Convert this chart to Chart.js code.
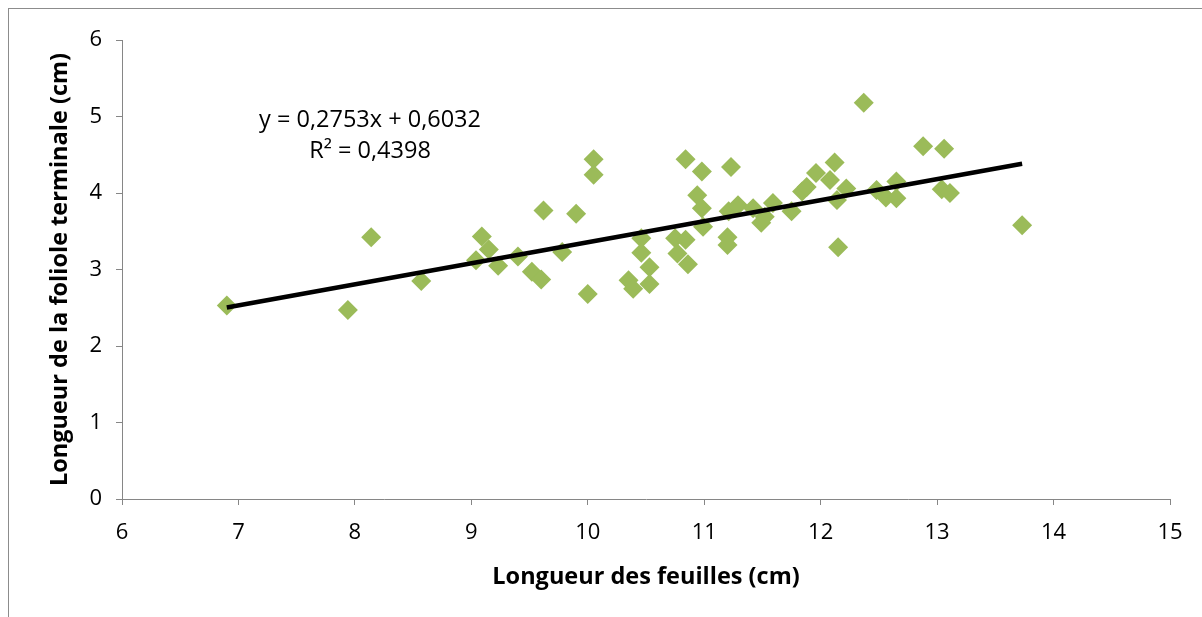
<!DOCTYPE html>
<html>
<head>
<meta charset="utf-8">
<script src="https://cdn.jsdelivr.net/npm/chart.js@4/dist/chart.umd.min.js"></script>
<style>
  html, body { margin: 0; padding: 0; background: #fff; overflow: hidden; }
  #wrap { position: relative; width: 1202px; height: 617px; overflow: hidden; }
  #frame { position: absolute; left: 8px; top: 8px; width: 1300px; height: 700px; border: 1px solid #8c8c8c; }
  #c { position: absolute; left: 0; top: 0; }
</style>
</head>
<body>
<div id="wrap">
  <div id="frame"></div>
  <canvas id="c" width="1202" height="617"></canvas>
</div>
<script>
// Leaf length (cm) and terminal leaflet length (cm) for each sampled leaf
const leafLength = [
  6.90, 7.94, 8.14, 8.57, 9.04, 9.09, 9.15, 9.23, 9.40, 9.52,
  9.60, 9.62, 9.78, 9.90, 10.00, 10.05, 10.05, 10.35, 10.39, 10.46,
  10.46, 10.53, 10.53, 10.75, 10.84, 10.77, 10.86, 10.84, 10.98, 10.94,
  10.98, 10.99, 11.23, 11.21, 11.29, 11.20, 11.20, 11.42, 11.49, 11.52,
  11.59, 11.75, 11.84, 11.88, 11.96, 12.08, 12.12, 12.22, 12.14, 12.15,
  12.37, 12.48, 12.56, 12.65, 12.65, 12.88, 13.06, 13.04, 13.11, 13.73
];
const leafletLength = [
  2.53, 2.47, 3.42, 2.85, 3.12, 3.43, 3.26, 3.05, 3.17, 2.97,
  2.87, 3.77, 3.23, 3.73, 2.68, 4.44, 4.24, 2.86, 2.75, 3.41,
  3.22, 3.03, 2.81, 3.41, 3.39, 3.21, 3.07, 4.44, 4.28, 3.97,
  3.80, 3.56, 4.34, 3.76, 3.84, 3.42, 3.32, 3.80, 3.61, 3.69,
  3.87, 3.76, 4.02, 4.08, 4.26, 4.17, 4.40, 4.06, 3.91, 3.29,
  5.18, 4.04, 3.94, 4.15, 3.93, 4.61, 4.58, 4.05, 4.00, 3.58
];

// Linear regression fitted to the data
const trendSlope = 0.2753;
const trendIntercept = 0.6032;
const equationLines = ['y = 0,2753x + 0,6032', 'R\u00b2 = 0,4398'];

// Axis ranges and titles
const xTicks = [6, 7, 8, 9, 10, 11, 12, 13, 14, 15];
const yTicks = [0, 1, 2, 3, 4, 5, 6];
const xTitle = 'Longueur des feuilles (cm)';
const yTitle = 'Longueur de la foliole terminale (cm)';

const points = leafLength.map((x, i) => ({ x: x, y: leafletLength[i] }));
const xMin = Math.min(...leafLength);
const xMax = Math.max(...leafLength);
const trendPoints = [xMin, xMax].map(x => ({ x: x, y: trendSlope * x + trendIntercept }));

const FONT = "'Open Sans', 'Liberation Sans', sans-serif";
const AXIS_GREY = '#868686';

// Regression equation written above the scatter
const equationLabel = {
  id: 'equationLabel',
  afterDatasetsDraw(chart) {
    const { ctx, scales } = chart;
    const cx = scales.x.getPixelForValue(8.13);
    const rows = [4.95, 4.54];
    ctx.save();
    ctx.font = '23.5px ' + FONT;
    ctx.fillStyle = '#000';
    ctx.textAlign = 'center';
    ctx.textBaseline = 'middle';
    equationLines.forEach((t, i) => ctx.fillText(t, cx, scales.y.getPixelForValue(rows[i])));
    ctx.restore();
  }
};

new Chart(document.getElementById('c'), {
  type: 'scatter',
  data: {
    datasets: [
      {
        type: 'line',
        data: trendPoints,
        borderColor: '#000',
        borderWidth: 4.5,
        pointRadius: 0,
        fill: false,
        order: 0
      },
      {
        data: points,
        pointStyle: 'rectRot',
        pointRadius: 10,
        pointHoverRadius: 10,
        backgroundColor: '#9BBB59',
        borderWidth: 0,
        order: 1
      }
    ]
  },
  options: {
    responsive: false,
    animation: false,
    events: [],
    layout: { padding: { top: 40, right: 32, left: 0, bottom: 0 } },
    plugins: { legend: { display: false }, tooltip: { enabled: false } },
    scales: {
      x: {
        type: 'linear',
        min: xTicks[0],
        max: xTicks[xTicks.length - 1],
        afterBuildTicks: s => { s.ticks = xTicks.map(v => ({ value: v })); },
        afterFit: s => { s.height = 118; },
        grid: { drawOnChartArea: false, drawTicks: true, tickLength: 6, color: AXIS_GREY },
        border: { color: AXIS_GREY, width: 1 },
        ticks: { color: '#000', padding: 15, font: { family: FONT, size: 22 } },
        title: {
          display: true, text: xTitle, color: '#000',
          font: { family: FONT, size: 23.5, weight: 'bold' },
          padding: { top: 0, bottom: 26 }
        }
      },
      y: {
        type: 'linear',
        min: yTicks[0],
        max: yTicks[yTicks.length - 1],
        afterBuildTicks: s => { s.ticks = yTicks.map(v => ({ value: v })); },
        afterFit: s => { s.width = 122; },
        grid: { drawOnChartArea: false, drawTicks: true, tickLength: 6, color: AXIS_GREY },
        border: { color: AXIS_GREY, width: 1 },
        ticks: { color: '#000', padding: 14, font: { family: FONT, size: 22 } },
        title: {
          display: true, text: yTitle, color: '#000',
          font: { family: FONT, size: 23.5, weight: 'bold' },
          padding: { top: 46, bottom: 0 }
        }
      }
    }
  },
  plugins: [equationLabel]
});
</script>
</body>
</html>
